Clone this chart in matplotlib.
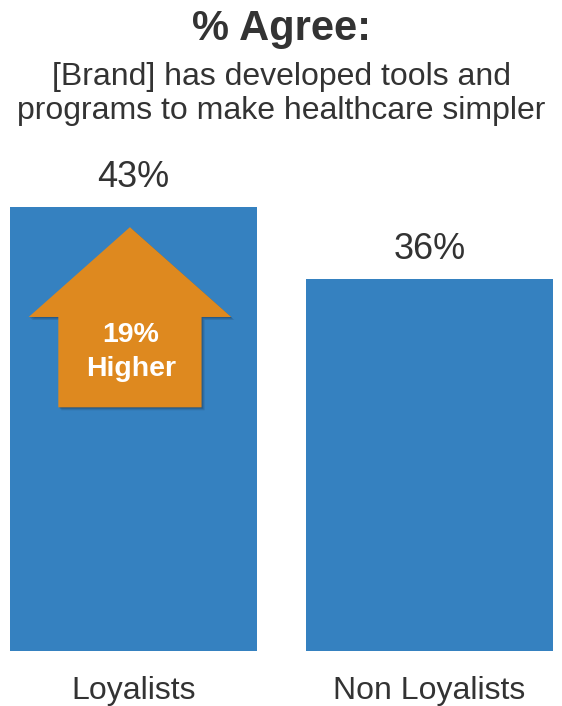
import matplotlib
matplotlib.use("Agg")
import matplotlib.pyplot as plt
from matplotlib.patches import Polygon

plt.rcParams['font.family'] = ['Liberation Sans', 'DejaVu Sans']

categories = ["Loyalists", "Non Loyalists"]
values = [43, 36]
value_labels = ["43%", "36%"]
lift_lines = ["19%", "Higher"]

title = "% Agree:"
subtitle_lines = ["[Brand] has developed tools and",
                  "programs to make healthcare simpler"]

BAR_COLOR = "#3581C0"
ARROW_COLOR = "#DE891F"
TEXT_COLOR = "#333333"

W, H = 562, 706
fig = plt.figure(figsize=(W / 100, H / 100), dpi=100)
fig.patch.set_facecolor("white")

# axes spans the full width; baseline sits 55 px above the bottom edge
ax = fig.add_axes([0, 55 / H, 1, 651 / H])
px_per_unit_x = 296.0
px_per_unit_y = 10.325
ax.set_xlim(-133.5 / px_per_unit_x, (W - 133.5) / px_per_unit_x)
ax.set_ylim(0, 651 / px_per_unit_y)
ax.axis("off")

x = list(range(len(categories)))
ax.bar(x, values, width=247 / px_per_unit_x, color=BAR_COLOR, zorder=1)

for xi, v, lab in zip(x, values, value_labels):
    ax.text(xi, v + 20 / px_per_unit_y, lab, ha="center", va="baseline",
            fontsize=26, color=TEXT_COLOR)

for xi, cat in zip(x, categories):
    ax.text(xi, -48 / px_per_unit_y, cat, ha="center", va="baseline",
            fontsize=23, color=TEXT_COLOR, clip_on=False)

# upward arrow drawn over the loyalists bar
cx = -0.012
top = values[0] - 1.95
head_base = values[0] - 10.65
bottom = values[0] - 19.4
head_half = 0.342
shaft_half = 0.242
pts = [(cx, top), (cx + head_half, head_base), (cx + shaft_half, head_base),
       (cx + shaft_half, bottom), (cx - shaft_half, bottom),
       (cx - shaft_half, head_base), (cx - head_half, head_base)]

dx, dy = 3 / px_per_unit_x, -3 / px_per_unit_y
for k, a in [(1.0, 0.18), (0.6, 0.22), (0.3, 0.25)]:
    shadow = [(px + dx * k, py + dy * k) for px, py in pts]
    ax.add_patch(Polygon(shadow, closed=True, facecolor="#1a3550",
                         edgecolor="none", alpha=a, zorder=2))
ax.add_patch(Polygon(pts, closed=True, facecolor=ARROW_COLOR,
                     edgecolor="none", zorder=3))

# two-line lift label inside the arrow shaft
line_gap = 34.7 / px_per_unit_y
first_base = head_base - 2.4
for i, line in enumerate(lift_lines):
    ax.text(cx + 0.004, first_base - i * line_gap, line, ha="center",
            va="baseline", fontsize=20.5, fontweight="bold", color="white",
            zorder=4)

fig.text(0.5, 1 - 40 / H, title, ha="center", va="baseline", fontsize=30,
         fontweight="bold", color=TEXT_COLOR)
for i, line in enumerate(subtitle_lines):
    fig.text(0.5, 1 - (85 + 34 * i) / H, line, ha="center", va="baseline",
             fontsize=23, color=TEXT_COLOR)

fig.savefig("out.png", dpi=100, facecolor="white")
